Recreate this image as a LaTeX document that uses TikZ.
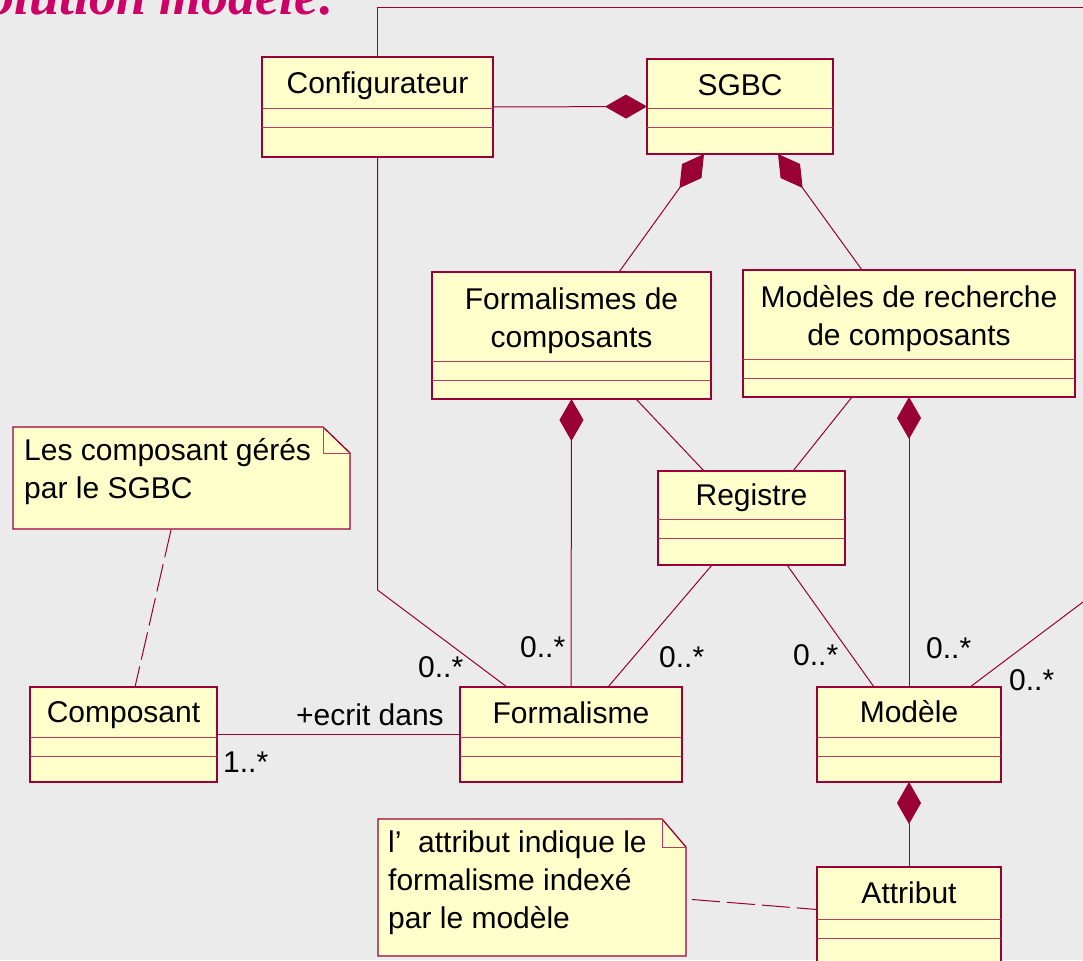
\documentclass[tikz,border=0pt]{standalone}
\usepackage{fontspec}
\setmainfont{Liberation Sans}
\newfontfamily\titlefont{Liberation Serif}
\usetikzlibrary{arrows.meta,calc}
\definecolor{umlred}{RGB}{153,0,51}
\definecolor{umlfill}{RGB}{255,255,204}
\definecolor{compred}{RGB}{185,60,95}
\definecolor{bgcol}{RGB}{235,235,235}
\definecolor{titlecol}{RGB}{204,0,102}
\pgfdeclarelayer{bg}
\pgfdeclarelayer{edges}
\pgfsetlayers{bg,edges,main}

\tikzset{
  classbox/.style={draw=umlred, fill=umlfill, line width=1.3pt, inner sep=0pt, outer sep=0pt},
  compline/.style={draw=compred, line width=1pt},
  classtext/.style={inner sep=0pt, font=\fontsize{30}{38}\selectfont, align=center},
  notebox/.style={inner sep=0pt, outer sep=0pt},
  noteshape/.style={draw=umlred, fill=umlfill, line width=1.3pt, line join=miter},
  foldline/.style={draw=compred, line width=1pt},
  notetext/.style={inner sep=0pt, font=\fontsize{30}{38}\selectfont, align=left},
  assoc/.style={draw=umlred, line width=1pt},
  compo/.style={assoc, -{Diamond[length=42pt, width=24pt, fill=umlred]}},
  notelink/.style={draw=umlred, line width=1pt, dash pattern=on 28pt off 7pt},
  mult/.style={inner sep=0pt, anchor=base west, font=\fontsize{30}{36}\selectfont},
}

% UML class: name, top-left corner, width, height, header height,
% offset of the last title line's baseline, title
\newcommand\umlbox[7]{%
  \node[classbox, minimum width=#3pt, minimum height=#4pt, anchor=north west] (#1) at #2 {};
  \draw[compline] ($(#1.north west)+(0,#5)$) -- ++(#3,0);
  \draw[compline] ($(#1.north west)+(0,#5+19)$) -- ++(#3,0);
  \node[classtext, anchor=base] at ($(#1.north)+(0,#6)$) {#7};
}

% UML note with folded corner: name, top-left corner, width, height, fold width, fold height
\newcommand\umlnote[6]{%
  \node[notebox, minimum width=#3pt, minimum height=#4pt, anchor=north west] (#1) at #2 {};
  \path[noteshape] (#1.north west) -- ($(#1.north east)+(-#5,0)$) -- ($(#1.north east)+(0,#6)$)
    -- (#1.south east) -- (#1.south west) -- cycle;
  \draw[foldline] ($(#1.north east)+(-#5,0)$) -- ++(0,#6) -- ++(#5,0);
}

\begin{document}
\begin{tikzpicture}[x=1pt, y=-1pt]
  \useasboundingbox (0,0) rectangle (1083,960);
  \begin{pgfonlayer}{bg}
    \fill[bgcol] (0,0) rectangle (1083,960);
  \end{pgfonlayer}

  % heading, partly above the page
  \node[anchor=base east, inner sep=0pt, text=titlecol,
        font=\titlefont\bfseries\itshape\fontsize{54}{60}\selectfont] (title) at (337,15) {Solution modèle:};

  % classes
  \umlbox{cfg}{(262,57)}{231}{100}{52}{37}{Configurateur}
  \umlbox{sgbc}{(647,59)}{186}{95}{50}{37}{SGBC}
  \umlbox{fdc}{(432,272)}{279}{127}{89}{75}{Formalismes de\\composants}
  \umlbox{rech}{(743,270)}{332}{127}{89}{75}{Modèles de recherche\\de composants}
  \umlbox{reg}{(658,471)}{187}{94}{48}{34}{Registre}
  \umlbox{cmp}{(30,687)}{187}{95}{50}{35}{Composant}
  \umlbox{frm}{(460,687)}{222}{95}{50}{36}{Formalisme}
  \umlbox{mod}{(817,687)}{184}{95}{50}{35}{Modèle}
  \umlbox{attr}{(817,867)}{184}{99}{52}{36}{Attribut}

  % notes (text nodes are placed by the baseline of their last line)
  \umlnote{n1}{(13,427)}{337}{102}{27}{26}
  \node[notetext, anchor=base west] (n1txt) at ($(n1.north west)+(11,71)$) {Les composant gérés\\par le SGBC};
  \umlnote{n2}{(378,819)}{308}{137}{24}{28}
  \node[notetext, anchor=base west] (n2txt) at ($(n2.north west)+(10,109)$) {l'\ \ attribut indique le\\formalisme indexé\\par le modèle};

  % free ends of the associations leaving the page
  \coordinate (topr) at (1083,7.5);
  \coordinate (offr) at (1083,602);

  \begin{pgfonlayer}{edges}
    \draw[assoc] (cfg.north) |- (topr);
    \draw[compo] (cfg.east) -- (sgbc.west);
    \draw[compo] ($(fdc.north)+(47.5,0)$) -- ($(sgbc.south)+(-36,0)$);
    \draw[compo] ($(rech.north)+(-47,0)$) -- ($(sgbc.south)+(38,0)$);
    \draw[compo] (frm.north) -- (fdc.south);
    \draw[compo] (mod.north) -- (rech.south);
    \draw[compo] (attr.north) -- (mod.south);
    \draw[assoc] ($(fdc.south)+(64.5,0)$) -- ($(reg.north)+(-47.5,0)$);
    \draw[assoc] ($(rech.south)+(-57,0)$) -- ($(reg.north)+(41.5,0)$);
    \draw[assoc] ($(reg.south)+(-39.5,0)$) -- ($(frm.north)+(37,0)$);
    \draw[assoc] ($(reg.south)+(35.5,0)$) -- ($(mod.north)+(-35,0)$);
    \draw[assoc] (cfg.south) -- ($(cfg.south)+(0,433)$) -- ($(frm.north)+(-64,0)$);
    \draw[assoc] ($(mod.north)+(61,0)$) -- (offr);
    \draw[assoc] (cmp.east) -- (frm.west);
    \draw[notelink] ($(n1.south)+(-10.5,1)$) -- ($(cmp.north)+(11.5,0)$);
    \draw[notelink] ($(n2.east)+(6,12)$) -- ($(attr.west)+(0,-7)$);
  \end{pgfonlayer}

  % multiplicities and role names
  \node[mult] (m1) at (418,677) {0..*};
  \node[mult] (m2) at (520,657) {0..*};
  \node[mult] (m3) at (659,667) {0..*};
  \node[mult] (m4) at (793,665) {0..*};
  \node[mult] (m5) at (926,658) {0..*};
  \node[mult] (m6) at (1009,690) {0..*};
  \node[mult] (m7) at (223,772) {1..*};
  \node[mult] (role) at (296,725) {+ecrit dans};
\end{tikzpicture}
\end{document}
